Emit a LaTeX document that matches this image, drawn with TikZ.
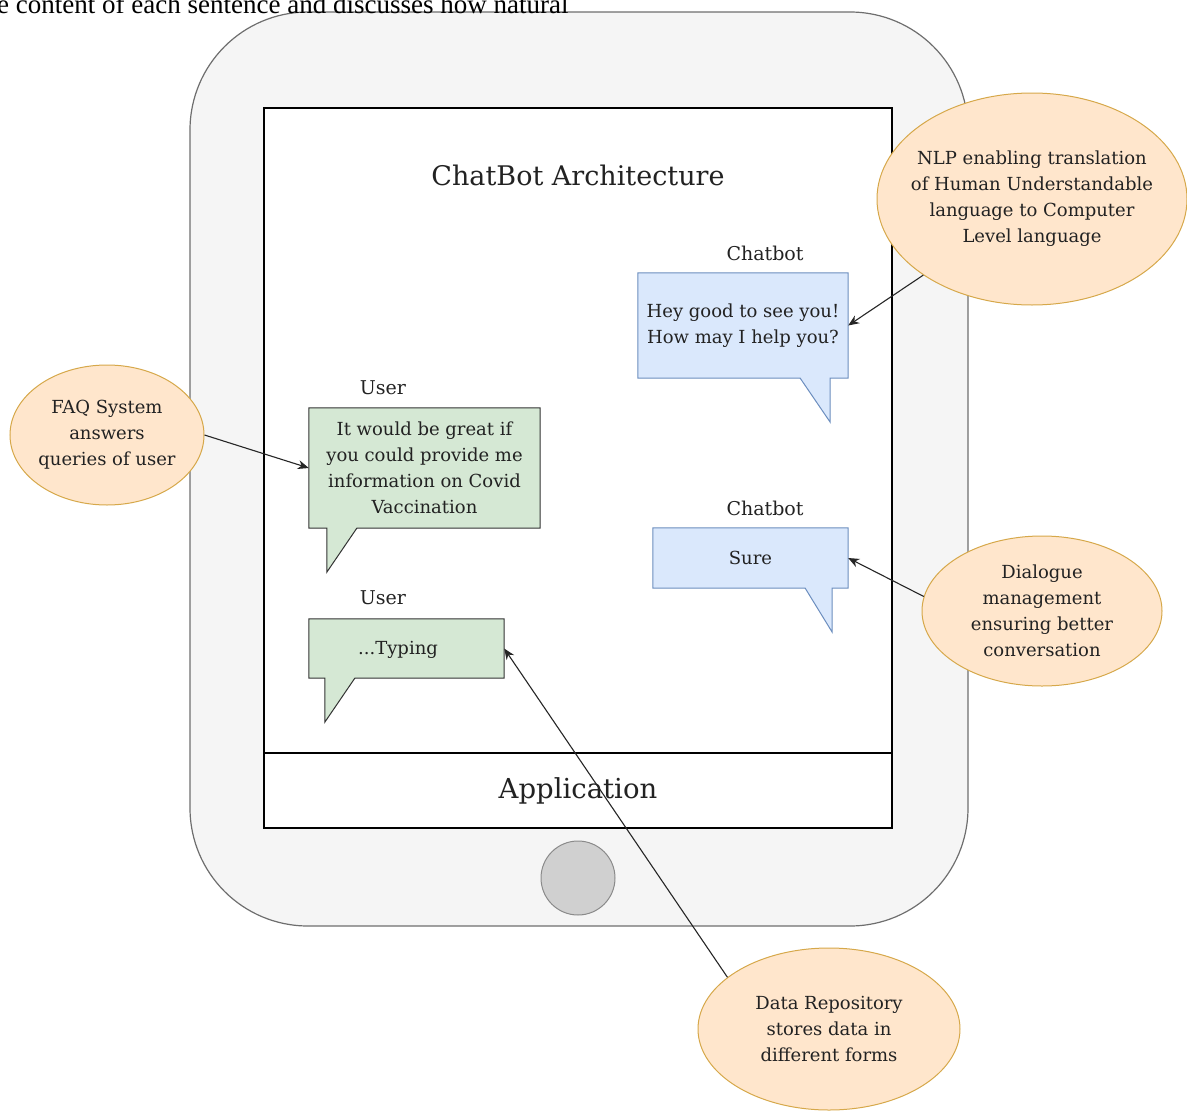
\documentclass[tikz,border=0pt]{standalone}
\usepackage{fontspec}
\setmainfont{DejaVu Serif}
\newfontfamily\paperfont{Liberation Serif}
\usetikzlibrary{shapes.geometric,arrows.meta}

\pgfdeclarelayer{devicelayer}
\pgfdeclarelayer{bubblelayer}
\pgfsetlayers{devicelayer,bubblelayer,main}

\definecolor{devfill}{HTML}{F5F5F5}
\definecolor{devline}{HTML}{6E6E6E}
\definecolor{btnfill}{HTML}{D0D0D0}
\definecolor{btnline}{HTML}{8A8A8A}
\definecolor{bluefill}{HTML}{DAE8FC}
\definecolor{blueline}{HTML}{6C8EBF}
\definecolor{greenfill}{HTML}{D5E8D4}
\definecolor{greenline}{HTML}{333333}
\definecolor{notefill}{HTML}{FFE6CC}
\definecolor{noteline}{HTML}{D6A84A}
\definecolor{ink}{HTML}{222222}

\tikzset{
  bodytext/.style={text=ink, font=\fontsize{18}{26}\selectfont, align=center, inner sep=0pt},
  device/.style={draw=devline, fill=devfill, line width=1.2pt, rounded corners=118pt, inner sep=0pt},
  screen/.style={draw=black, fill=white, line width=1.3pt, inner sep=0pt},
  homebtn/.style={circle, draw=btnline, fill=btnfill, line width=1pt, inner sep=0pt},
  bubble/.style={inner sep=0pt, bodytext},
  bluebubble/.style={fill=bluefill, draw=blueline, line width=1pt},
  greenbubble/.style={fill=greenfill, draw=greenline, line width=1pt},
  note/.style={ellipse, draw=noteline, fill=notefill, line width=1pt, inner sep=0pt},
  lbl/.style={bodytext, font=\fontsize{19}{26}\selectfont},
  link/.style={draw=black!85, line width=1.1pt, -{Stealth[length=11pt,width=9pt]}}
}

\begin{document}
\begin{tikzpicture}[x=1pt,y=-1pt]
\useasboundingbox (0,0) rectangle (1187,1111);

% running text of the page above the figure
\node[anchor=base west, inner sep=0pt, font=\paperfont\fontsize{27}{27}\selectfont] (paperline) at (-3,13) {e content of each sentence and discusses how natural};

% tablet body, screen and home button
\begin{pgfonlayer}{devicelayer}
\node[device, minimum width=778pt, minimum height=914pt] (tablet) at (579,469) {};
\node[screen, minimum width=628pt, minimum height=720pt] (screen) at (578,468) {};
\node[screen, minimum width=628pt, minimum height=75pt] (appbar) at (578,790.5) {};
\node[homebtn, minimum size=74pt] (home) at (578,878) {};
\end{pgfonlayer}
\node[bodytext, font=\fontsize{27.5}{27.5}\selectfont] (apptext) at (appbar) {Application};

\node[bodytext, font=\fontsize{27}{27}\selectfont] (title) at (578,175) {ChatBot Architecture};

% speech bubbles: the text nodes first, outlines with tails behind them
\node[bubble, minimum width=210pt, minimum height=105pt] (b1) at (743,325.5) {Hey good to see you!\\How may I help you?};
\node[bubble, minimum width=231pt, minimum height=120pt] (g1) at (424.5,468) {It would be great if\\you could provide me\\information on Covid\\Vaccination};
\node[bubble, minimum width=195pt, minimum height=59pt] (g2) at (406.5,648.5) {};
\node[bodytext] (g2text) at (398,650) {...Typing};
\node[bubble, minimum width=195pt, minimum height=60pt] (b2) at (750.5,558) {Sure};

\begin{pgfonlayer}{bubblelayer}
\path[bluebubble] (b1.north west) -- (b1.north east) -- (b1.south east)
  -- ([xshift=-18pt]b1.south east) -- ([xshift=-18pt,yshift=-44pt]b1.south east)
  -- ([xshift=-48pt]b1.south east) -- (b1.south west) -- cycle;
\path[greenbubble] (g1.north west) -- (g1.north east) -- (g1.south east)
  -- ([xshift=48pt]g1.south west) -- ([xshift=18pt,yshift=-44pt]g1.south west)
  -- ([xshift=18pt]g1.south west) -- (g1.south west) -- cycle;
\path[greenbubble] (g2.north west) -- (g2.north east) -- (g2.south east)
  -- ([xshift=46pt]g2.south west) -- ([xshift=16pt,yshift=-44pt]g2.south west)
  -- ([xshift=16pt]g2.south west) -- (g2.south west) -- cycle;
\path[bluebubble] (b2.north west) -- (b2.north east) -- (b2.south east)
  -- ([xshift=-16pt]b2.south east) -- ([xshift=-16pt,yshift=-44pt]b2.south east)
  -- ([xshift=-43pt]b2.south east) -- (b2.south west) -- cycle;
\end{pgfonlayer}

% speaker labels
\node[lbl] (who1) at (765,253) {Chatbot};
\node[lbl] (who2) at (383,388) {User};
\node[lbl] (who3) at (383,598) {User};
\node[lbl] (who4) at (765,508) {Chatbot};

% component notes
\node[note, minimum width=310pt, minimum height=212pt] (nlp) at (1032,199) {};
\node[bodytext] (nlptext) at (nlp) {NLP enabling translation\\of Human Understandable\\language to Computer\\Level language};
\node[note, minimum width=194pt, minimum height=140pt] (faq) at (107,435) {};
\node[bodytext] (faqtext) at (faq) {FAQ System\\answers\\queries of user};
\node[note, minimum width=240pt, minimum height=150pt] (dlg) at (1042,611) {};
\node[bodytext] (dlgtext) at (dlg) {Dialogue\\management\\ensuring better\\conversation};
\node[note, minimum width=262pt, minimum height=162pt] (repo) at (829,1029) {};
\node[bodytext] (repotext) at (repo) {Data Repository\\stores data in\\different forms};

% connectors from each note to its bubble
\draw[link] (nlp.215) -- (b1.east);
\draw[link] (faq.east) -- (g1.west);
\draw[link] (dlg.173) -- (b2.east);
\draw[link] (repo.153) -- (g2.east);
\end{tikzpicture}
\end{document}
